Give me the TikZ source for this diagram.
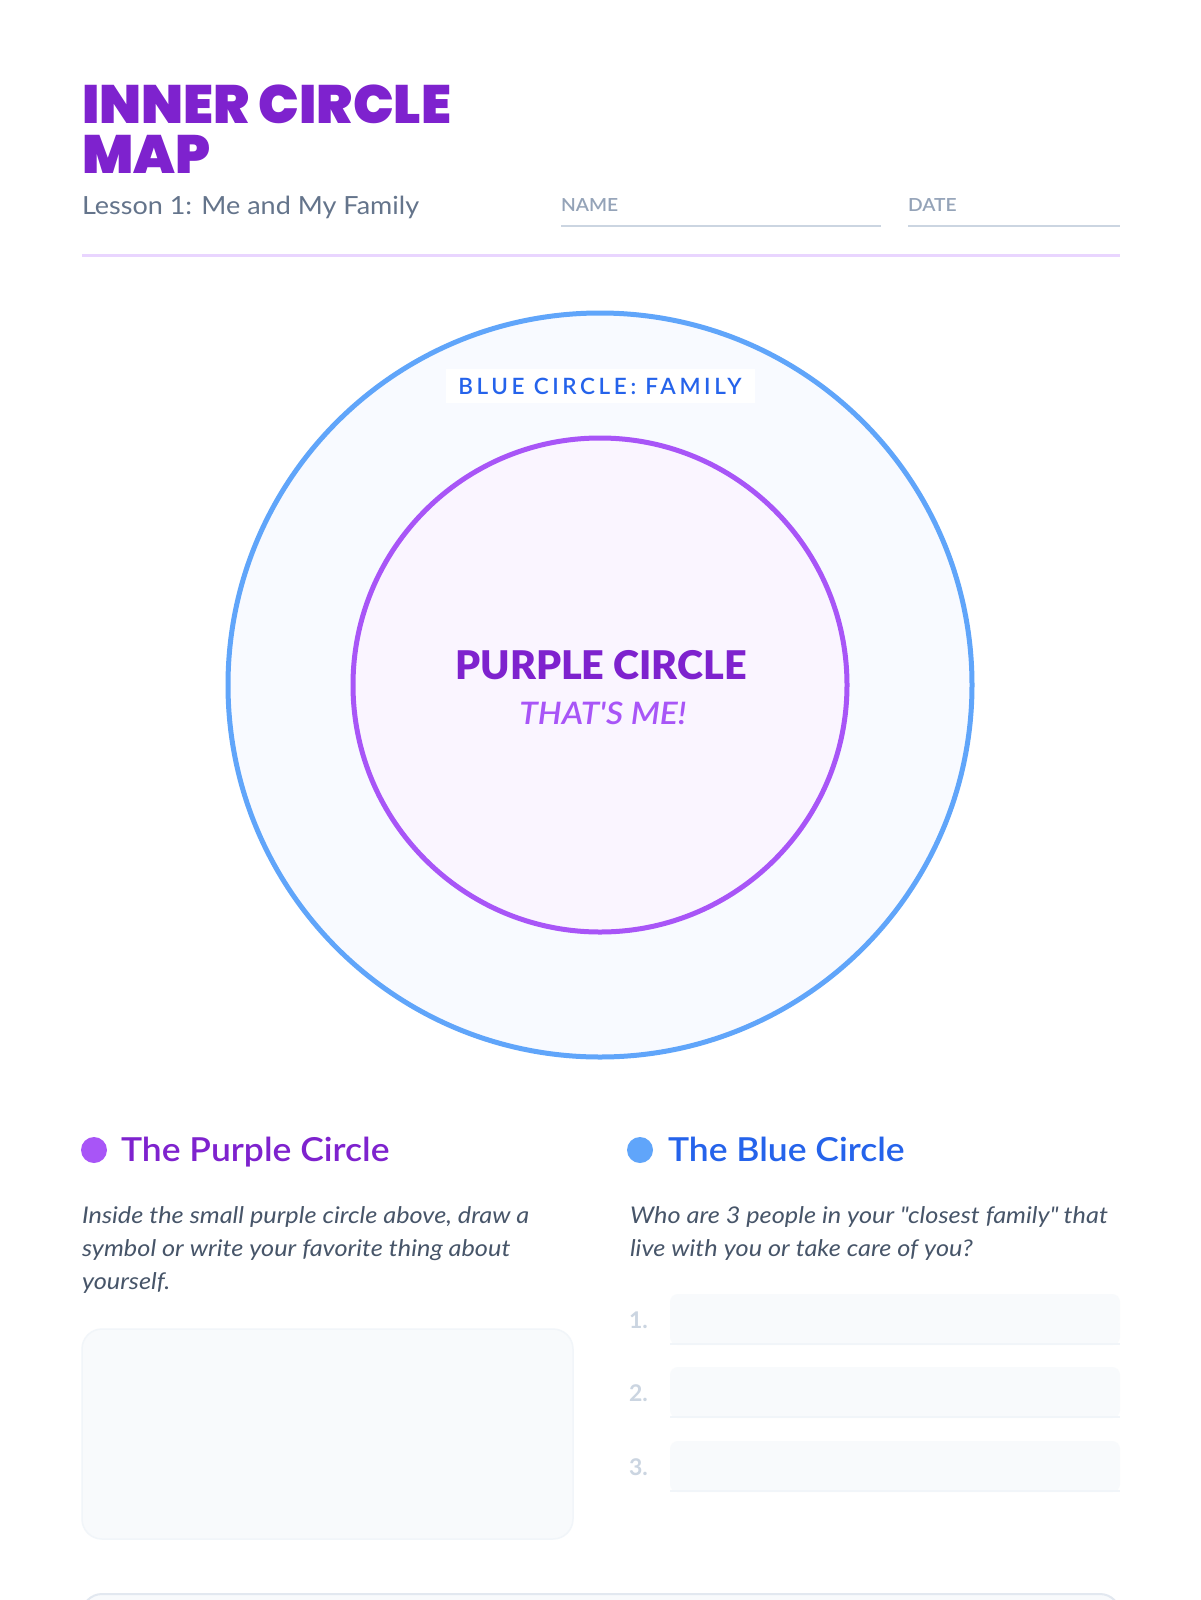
\documentclass[tikz,border=0pt]{standalone}
\usepackage{fontspec}
\setmainfont{Lato}
\IfFontExistsTF{Poppins Black}{\newfontfamily\titlefont{Poppins Black}}{\newfontfamily\titlefontbase{Poppins}\newcommand\titlefont{\titlefontbase\bfseries}}
\IfFontExistsTF{Lato Semibold}{\newfontfamily\semib{Lato Semibold}}{\newcommand\semib{\bfseries}}
\IfFontExistsTF{Lato Black}{\newfontfamily\heavyf{Lato Black}}{\newcommand\heavyf{\bfseries}}
\newcommand\dq{\XeTeXglyph\XeTeXcharglyph"22\relax}
\definecolor{titlec}{HTML}{7E22CE}
\definecolor{subc}{HTML}{64748B}
\definecolor{lblc}{HTML}{94A3B8}
\definecolor{linec}{HTML}{CBD5E1}
\definecolor{divc}{HTML}{E9D5FF}
\definecolor{bluestroke}{HTML}{60A5FA}
\definecolor{purplestroke}{HTML}{A855F7}
\definecolor{bluetext}{HTML}{2563EB}
\definecolor{bodyc}{HTML}{475569}
\definecolor{bluefill}{HTML}{F8FAFF}
\definecolor{purplefill}{HTML}{FAF5FF}
\definecolor{boxfill}{HTML}{F8FAFC}
\definecolor{boxline}{HTML}{F1F5F9}
\definecolor{boxline2}{HTML}{E2E8F0}
\begin{document}
\begin{tikzpicture}[x=1pt,y=-1pt,
  txt/.style={anchor=base west, inner sep=0pt, outer sep=0pt},
  ctxt/.style={anchor=base, inner sep=0pt, outer sep=0pt},
  body/.style={txt, text=bodyc, font=\itshape\fontsize{23}{23}\selectfont\addfontfeatures{FakeStretch=1.1}},
  numlbl/.style={txt, text=linec, font=\bfseries\fontsize{23}{23}\selectfont},
  field/.style={fill=boxfill},
  fieldline/.style={draw=boxline, line width=2pt},
  smalllbl/.style={txt, text=lblc, font=\semib\fontsize{18}{18}\selectfont\addfontfeatures{FakeStretch=1.07}},
  heading/.style={txt, font=\semib\fontsize{33}{33}\selectfont\addfontfeatures{FakeStretch=1.075}}
]
\useasboundingbox (0,0) rectangle (1200,1600);
\clip (0,0) rectangle (1200,1600);
\fill[white] (0,0) rectangle (1200,1600);

% header
\node[txt, text=titlec, font=\titlefont\fontsize{54}{54}\selectfont] (t1) at (82,123.5) {INNER CIRCLE};
\node[txt, text=titlec, font=\titlefont\fontsize{54}{54}\selectfont] (t2) at (82,173.5) {MAP};
\node[txt, text=subc, font=\fontsize{25}{25}\selectfont\addfontfeatures{FakeStretch=1.08}] (sub) at (82,214) {Lesson 1: Me and My Family};
\node[smalllbl] (name) at (561,211) {NAME};
\node[smalllbl] (date) at (908,211) {DATE};
\coordinate (nl1) at (561,225.5); \coordinate (nl2) at (881,225.5);
\coordinate (dl1) at (908,225.5); \coordinate (dl2) at (1120,225.5);
\draw[linec, line width=2pt] (nl1) -- (nl2);
\draw[linec, line width=2pt] (dl1) -- (dl2);
\coordinate (dv1) at (82,255); \coordinate (dv2) at (1120,255);
\draw[divc, line width=3pt] (dv1) -- (dv2);

% circles
\coordinate (c) at (600,685);
\draw[bluestroke, fill=bluefill, line width=5pt] (c) circle[radius=372];
\draw[purplestroke, fill=purplefill, line width=5pt] (c) circle[radius=247];
\fill[white] (446,369) rectangle (755,403);
\node[ctxt, text=bluetext, font=\semib\fontsize{22.5}{22.5}\selectfont\addfontfeatures{LetterSpace=16}] (blbl) at (600,394) {BLUE CIRCLE: FAMILY};
\node[ctxt, text=titlec, font=\heavyf\fontsize{39.5}{39.5}\selectfont] (pc) at (601,679) {PURPLE CIRCLE};
\node[ctxt, text=purplestroke, font=\semib\itshape\fontsize{31}{31}\selectfont\addfontfeatures{FakeStretch=1.08}] (me) at (603,724) {THAT\char39 S ME!};

% left section
\fill[purplestroke] (94,1150) circle[radius=13];
\node[heading, text=titlec] (h1) at (121,1161) {The Purple Circle};
\node[body] (p1) at (82,1223) {Inside the small purple circle above, draw a};
\node[body] (p2) at (82,1256) {symbol or write your favorite thing about};
\node[body] (p3) at (82,1289) {yourself.};
\draw[boxline, fill=boxfill, line width=1.5pt, rounded corners=20pt] (82,1329) rectangle (573,1539);

% right section
\fill[bluestroke] (640,1150) circle[radius=13];
\node[heading, text=bluetext] (h2) at (668,1161) {The Blue Circle};
\node[body] (q1) at (630,1223) {Who are 3 people in your \dq closest family\dq{} that};
\node[body] (q2) at (630,1256) {live with you or take care of you?};

\foreach \i/\y in {1/1294,2/1367,3/1441}{
  \fill[field, rounded corners=8pt] (670,\y+51) -- (670,\y) -- (1120,\y) -- (1120,\y+51) -- cycle;
  \draw[fieldline] (670,\y+50) -- (1120,\y+50);
  \node[numlbl] (n\i) at (629,\y+34) {\i.};
}

% bottom box (cut off)
\draw[boxline2, fill=boxfill, line width=2pt, rounded corners=20pt] (82,1594) rectangle (1120,1700);
\end{tikzpicture}
\end{document}
